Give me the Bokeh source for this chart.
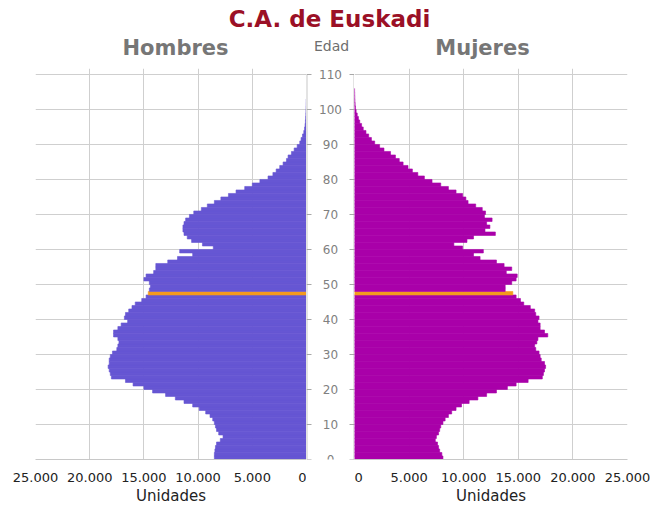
from bokeh.plotting import figure
from bokeh.models import Range1d, FixedTicker, LinearAxis, Label, LabelSet, ColumnDataSource
from bokeh.layouts import column, row
from bokeh.core.properties import value
from bokeh.embed import file_html
from bokeh.resources import INLINE

# ---------------- data ----------------
AGES = list(range(0, 106))
HOMBRES = [
    8500, 8500, 8450, 8400, 8300, 7950, 7700, 8100, 8300, 8400,
    8500, 8650, 8900, 9300, 9900, 10500, 11300, 12100, 13000, 14200,
    15000, 16000, 16700, 18000, 18100, 18200, 18300, 18200, 18200, 18100,
    17900, 17500, 17400, 17300, 17400, 17800, 17800, 17400, 17100, 16500,
    16800, 16700, 16400, 16100, 15800, 15200, 14800, 14600, 14500, 14400,
    14500, 15000, 14800, 14100, 13900, 13900, 12800, 11900, 10500, 11700,
    8600, 9600, 10600, 11000, 11300, 11400, 11400, 11300, 11150, 10800,
    10400, 9700, 9150, 8500, 7900, 7200, 6500, 5700, 5000, 4300,
    3550, 3100, 2800, 2470, 2160, 1850, 1700, 1390, 1140, 860,
    620, 500, 370, 250, 180, 130, 100, 80, 60, 50,
    40, 30, 22, 16, 10, 6,
]
MUJERES = [
    8100, 8000, 7800, 7700, 7600, 7400, 7500, 7700, 7800, 7900,
    8100, 8300, 8600, 8900, 9300, 9800, 10500, 11300, 12100, 13000,
    14000, 14800, 15900, 17200, 17300, 17400, 17500, 17400, 17100, 17000,
    16900, 16600, 16500, 16700, 16800, 17700, 17400, 17000, 17000, 16800,
    16900, 16600, 16500, 16100, 15500, 15200, 14800, 14500, 13800, 13800,
    14400, 14800, 14900, 13900, 14400, 13700, 13000, 11500, 10900, 11800,
    9900, 9100, 10300, 10900, 12900, 11950, 12400, 12100, 12600, 11900,
    12000, 11700, 11100, 10400, 10200, 9900, 9300, 8600, 7900, 7100,
    6400, 5800, 5300, 4900, 4450, 4100, 3750, 3300, 2700, 2300,
    1850, 1550, 1300, 1050, 800, 650, 480, 360, 250, 150,
    90, 60, 40, 28, 18, 10,
]
HIGHLIGHT_AGE = 47
AGE_TICKS = [0, 10, 20, 30, 40, 50, 60, 70, 80, 90, 100, 110]
X_TICKS = [0, 5000, 10000, 15000, 20000, 25000]
X_TICK_LABELS = ["0", "5.000", "10.000", "15.000", "20.000", "25.000"]

TITLE = "C.A. de Euskadi"
LEFT_TITLE = "Hombres"
RIGHT_TITLE = "Mujeres"
AGE_TITLE = "Edad"
X_LABEL = "Unidades"

# ---------------- style ----------------
FONT = "DejaVu Sans"
MALE_COLOR = "#6656d3"
FEMALE_COLOR = "#a900a9"
HIGHLIGHT_COLOR = "#f39a1e"
GRID_COLOR = "#cfcfcf"
EDGE_COLOR = "#c8c8c8"

TOP_H = 60
ROW_H = 447
LEFT_W = 306
MID_W = 48
RIGHT_W = 296
TOTAL_W = LEFT_W + MID_W + RIGHT_W
LEFT_PAD = 35
RIGHT_PAD = 23
TOP_BORDER = 8
BOTTOM_BORDER = 48

y_range = Range1d(0, 111.7)


def side_figure(width, x_range, values, color, left_pad, right_pad):
    colors = [HIGHLIGHT_COLOR if a == HIGHLIGHT_AGE else color for a in AGES]
    src = ColumnDataSource(dict(
        y=[a + 0.5 for a in AGES],
        v=values,
        c=colors,
    ))
    p = figure(width=width, height=ROW_H, x_range=x_range, y_range=y_range,
               toolbar_location=None, output_backend="svg",
               min_border_left=left_pad, min_border_right=right_pad,
               min_border_top=TOP_BORDER, min_border_bottom=BOTTOM_BORDER,
               outline_line_color=None)
    p.hbar(y="y", left=0, right="v", height=1, source=src,
           fill_color="c", line_color="c", line_width=0.6)
    p.yaxis.visible = False
    p.xgrid.ticker = FixedTicker(ticks=X_TICKS)
    p.ygrid.ticker = FixedTicker(ticks=AGE_TICKS)
    p.grid.grid_line_color = GRID_COLOR
    p.grid.grid_line_width = 1
    ax = p.xaxis[0]
    ax.ticker = FixedTicker(ticks=X_TICKS)
    ax.major_label_overrides = dict(zip(X_TICKS, X_TICK_LABELS))
    ax.major_tick_line_color = None
    ax.minor_tick_line_color = None
    ax.axis_line_color = EDGE_COLOR
    ax.major_label_text_font = FONT
    ax.major_label_text_font_size = "13px"
    ax.major_label_text_color = "#222222"
    ax.major_label_standoff = 7
    ax.axis_label = X_LABEL
    ax.axis_label_text_font = FONT
    ax.axis_label_text_font_size = "15px"
    ax.axis_label_text_font_style = "normal"
    ax.axis_label_text_color = "#222222"
    ax.axis_label_standoff = 2
    return p


left = side_figure(LEFT_W, Range1d(25000, 0), HOMBRES, MALE_COLOR, LEFT_PAD, 0)
right = side_figure(RIGHT_W, Range1d(0, 25000), MUJERES, FEMALE_COLOR, 0, RIGHT_PAD)

# ---------------- middle age column ----------------
mid = figure(width=MID_W, height=ROW_H, x_range=Range1d(0, 1), y_range=y_range,
             toolbar_location=None, output_backend="svg",
             min_border_left=0, min_border_right=0, min_border_top=TOP_BORDER,
             min_border_bottom=BOTTOM_BORDER, outline_line_color=None,
             x_axis_location=None, y_axis_location=None)
mid.grid.visible = False
for loc, fx in (("left", 0), ("right", 1)):
    axis = LinearAxis(fixed_location=fx, ticker=FixedTicker(ticks=AGE_TICKS),
                      bounds=(0, 110),
                      major_tick_in=5, major_tick_out=0,
                      major_tick_line_color="#a8a8a8",
                      minor_tick_line_color=None,
                      major_label_overrides={t: "" for t in AGE_TICKS},
                      axis_line_color=EDGE_COLOR, axis_line_width=2)
    mid.add_layout(axis, loc)

age_src = ColumnDataSource(dict(age=AGE_TICKS, label=[str(a) for a in AGE_TICKS]))
mid.add_layout(LabelSet(x=0.5, y="age", text="label", source=age_src,
                        text_align="center", text_baseline="middle",
                        text_font=value(FONT), text_font_size="12px",
                        text_color="#808080"))

# ---------------- header ----------------
top = figure(width=TOTAL_W, height=TOP_H, x_range=Range1d(0, 1), y_range=Range1d(0, 1),
             toolbar_location=None, output_backend="svg", min_border=0,
             outline_line_color=None, x_axis_location=None, y_axis_location=None)
top.grid.visible = False
top.add_layout(Label(x=329, y=42, x_units="screen", y_units="screen", text=TITLE,
                     text_font=FONT, text_font_size="23px", text_font_style="bold",
                     text_color="#9b1026", text_align="center", text_baseline="middle"))
top.add_layout(Label(x=175, y=13, x_units="screen", y_units="screen", text=LEFT_TITLE,
                     text_font=FONT, text_font_size="21px", text_font_style="bold",
                     text_color="#767676", text_align="center", text_baseline="middle"))
top.add_layout(Label(x=331, y=15, x_units="screen", y_units="screen", text=AGE_TITLE,
                     text_font=FONT, text_font_size="14px", text_font_style="normal",
                     text_color="#6e6e6e", text_align="center", text_baseline="middle"))
top.add_layout(Label(x=482, y=13, x_units="screen", y_units="screen", text=RIGHT_TITLE,
                     text_font=FONT, text_font_size="21px", text_font_style="bold",
                     text_color="#767676", text_align="center", text_baseline="middle"))

layout = column(top, row(left, mid, right))
open("out.html", "w").write(file_html(layout, INLINE))
